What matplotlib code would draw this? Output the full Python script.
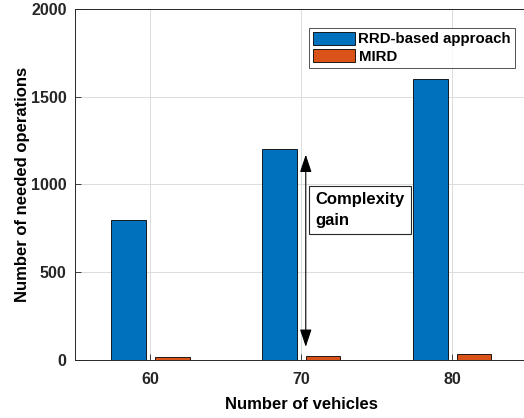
import matplotlib
matplotlib.use("Agg")
import matplotlib.pyplot as plt
import numpy as np

vehicles = [60, 70, 80]
rrd_ops = [800, 1200, 1600]
mird_ops = [15, 25, 36]
series_names = ["RRD-based approach", "MIRD"]
yticks = [0, 500, 1000, 1500, 2000]

plt.rcParams['font.family'] = ['Liberation Sans', 'DejaVu Sans']
plt.rcParams['font.weight'] = 'bold'

fig = plt.figure(figsize=(5.24, 4.18), dpi=100)
ax = fig.add_axes([75/524, 58/418, 452.5/524, 351/418])

x = np.array(vehicles, dtype=float)
w = 2.3
off = 1.45
ax.bar(x - off, rrd_ops, width=w, color='#0072BD', edgecolor='black', linewidth=0.6,
       label=series_names[0], zorder=3)
ax.bar(x + off, mird_ops, width=w, color='#D95319', edgecolor='black', linewidth=0.6,
       label=series_names[1], zorder=3)

ax.set_xlim(55, 85)
ax.set_ylim(0, 2000)
ax.set_xticks(vehicles)
ax.set_yticks(yticks)
ax.tick_params(direction='in', length=4, width=0.6, colors='#262626', labelsize=11.5)
ax.tick_params(axis='x', pad=9)
ax.tick_params(axis='y', pad=6)
for lab in ax.get_xticklabels() + ax.get_yticklabels():
    lab.set_fontweight('bold')
ax.grid(True, color='#dcdcdc', linewidth=0.7, zorder=0)
for s in ax.spines.values():
    s.set_color('#262626')
    s.set_linewidth(0.7)

ax.set_xlabel('Number of vehicles', fontsize=12, fontweight='bold', labelpad=7)
ax.set_ylabel('Number of needed operations', fontsize=12, fontweight='bold', labelpad=1)

leg = ax.legend(loc='upper left', bbox_to_anchor=((309-75)/452.5, (418-58-19-(418-409))/351 + 0.0),
                frameon=True, fancybox=False, prop={'weight': 'bold', 'size': 10.8},
                handlelength=2.8, handleheight=0.95, handletextpad=0.25, borderpad=0.25,
                labelspacing=0.2, borderaxespad=0)
leg.get_frame().set_edgecolor('#262626')
leg.get_frame().set_linewidth(0.7)

ax.annotate('', xy=(70.3, 75), xytext=(70.3, 1170),
            arrowprops=dict(arrowstyle='<|-|>,head_length=0.9,head_width=0.3', color='black', lw=0.8,
                            mutation_scale=12, shrinkA=0, shrinkB=0), zorder=5)
ax.text(70.95, 855, 'Complexity\ngain', fontsize=12, fontweight='bold', va='center', ha='left',
        linespacing=1.45,
        bbox=dict(boxstyle='square,pad=0.4', facecolor='white', edgecolor='#262626', linewidth=0.8),
        zorder=6)

fig.savefig('out.png', dpi=100)
